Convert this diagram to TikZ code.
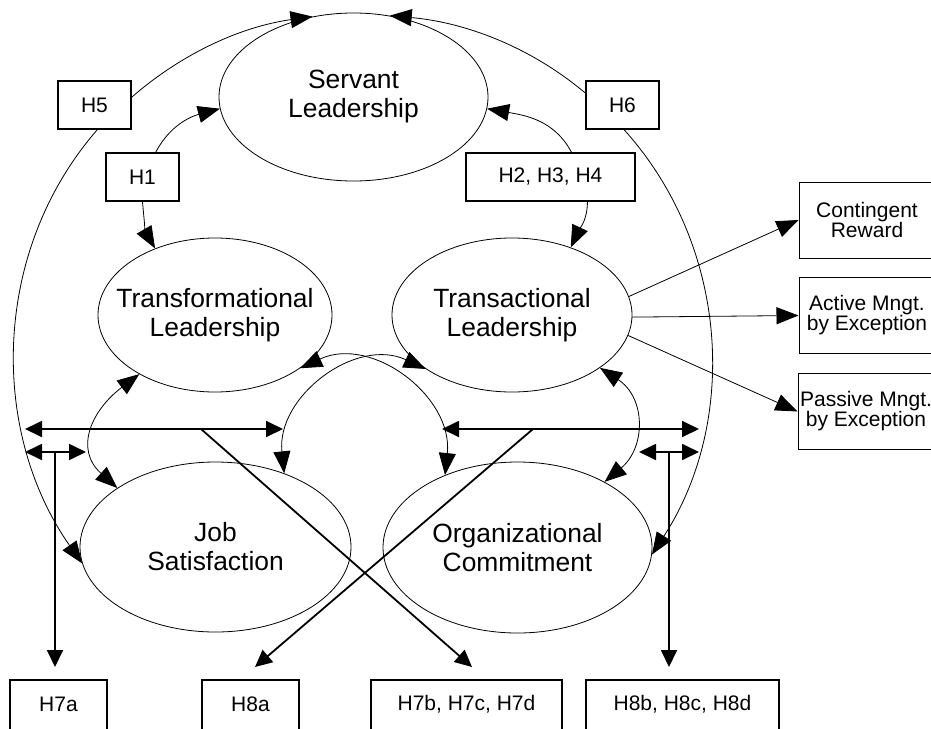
\documentclass[tikz,border=0pt]{standalone}
\usepackage{fontspec}
\setmainfont{Liberation Sans}
\usetikzlibrary{arrows.meta,shapes.geometric}
\begin{document}
\begin{tikzpicture}[x=1pt,y=-1pt,
  ell/.style={draw,ellipse,line width=0.8pt,inner sep=0pt},
  ellabel/.style={align=center,font=\fontsize{26.4}{29}\selectfont},
  hbox/.style={draw,line width=1.8pt,inner sep=0pt,minimum height=48pt,font=\fontsize{21}{20}\selectfont},
  boxlabel/.style={font=\fontsize{21}{20}\selectfont},
  rbox/.style={draw,line width=1pt,inner sep=0pt,minimum width=136pt,minimum height=76pt,align=center,font=\fontsize{21}{20}\selectfont},
  thinline/.style={line width=0.8pt},
  thickline/.style={line width=1.8pt},
  tip/.style={-{Triangle[length=22pt,width=17pt]}},
  tips/.style={{Triangle[length=22pt,width=17pt]}-{Triangle[length=22pt,width=17pt]}},
  ttip/.style={-{Triangle[length=17pt,width=16pt]}},
  ttips/.style={{Triangle[length=17pt,width=16pt]}-{Triangle[length=17pt,width=16pt]}},
]
\useasboundingbox (0,0) rectangle (931,728);
\clip (0,0) rectangle (931,728);

% ellipses
\node[ell,minimum width=269pt,minimum height=168pt,label={[ellabel]center:Servant\\Leadership}] (sv) at (353.5,97) {};
\node[ell,minimum width=234pt,minimum height=154pt,label={[ellabel]center:Transformational\\Leadership}] (tf) at (215,315) {};
\node[ell,minimum width=240pt,minimum height=154pt,label={[ellabel]center:Transactional\\Leadership}] (ta) at (512,315) {};
\node[ell,minimum width=271pt,minimum height=170pt,label={[ellabel]center:Job\\Satisfaction}] (js) at (215.5,547) {};
\node[ell,minimum width=269pt,minimum height=171pt,label={[ellabel]center:Organizational\\Commitment}] (org) at (517.5,547.5) {};

% hypothesis boxes
\node[hbox,minimum width=73pt] (h5) at (94.5,105) {H5};
\node[hbox,minimum width=73pt] (h1) at (142.5,177) {H1};
\node[hbox,minimum width=73pt] (h6) at (622.5,105) {H6};
\node[hbox,minimum width=169pt] (h2) at (550.5,177) {H2, H3, H4};

\node[hbox,minimum width=97pt,minimum height=60pt,label={[boxlabel,yshift=6pt]center:H7a}] (h7a) at (58.5,710) {};
\node[hbox,minimum width=97pt,minimum height=60pt,label={[boxlabel,yshift=6pt]center:H8a}] (h8a) at (250.5,710) {};
\node[hbox,minimum width=191pt,minimum height=60pt,label={[boxlabel,yshift=6pt]center:H7b, H7c, H7d}] (h7b) at (466.5,710) {};
\node[hbox,minimum width=193pt,minimum height=60pt,label={[boxlabel,yshift=6pt]center:H8b, H8c, H8d}] (h8b) at (682.5,710) {};

% transactional dimensions
\node[rbox] (cr) at (867,220) {Contingent\\Reward};
\node[rbox] (am) at (867,315.5) {Active Mngt.\\by Exception};
\node[rbox] (pm) at (866,411.5) {Passive Mngt.\\by Exception};

% curved hypothesis connectors
\draw[thinline,tip] (h5.12) to[out=41,in=188,looseness=0.9] (sv.117);
\draw[thinline,tip] (h5.-84) to[out=229,in=125,looseness=0.95] (js.187);
\draw[thinline,tip] (h6.162) to[out=140,in=-5,looseness=0.9] (sv.66);
\draw[thinline,tip] (h6.-86) to[out=-48,in=57,looseness=0.95] (org.-3);
\draw[thinline,tip] (h1.62) to[out=62,in=195] (sv.185.5);
\draw[thinline,tip] (h1.south) to[out=-85,in=120] (tf.132);
\draw[thinline,tip] (h2.50) to[out=118,in=-10] (sv.-5.5);
\draw[thinline,tip] (h2.-34) to[out=-90,in=65] (ta.49);

% correlations between ellipses
\draw[thinline,tips] (tf.218) to[out=217,in=138,looseness=1.3] (js.149);
\draw[thinline,tips] (ta.-31) to[out=-33,in=40,looseness=1.22] (org.37);
\draw[thinline,tips] (tf.-32) to[out=25,in=84,looseness=1.12] (org.135);
\draw[thinline,tips] (ta.212) to[out=155,in=96,looseness=1.12] (js.47.6);

% transactional to dimensions
\draw[thinline,tip] (ta.9) -- (cr.west);
\draw[thinline,tip] (ta.-1) -- (am.west);
\draw[thinline,tip] (ta.-10.6) -- (pm.west);

% thick connectors
\coordinate (a1) at (25,429);
\coordinate (a2) at (283,429);
\coordinate (b1) at (442,429);
\coordinate (b2) at (699,429);
\coordinate (c1) at (25,452);
\coordinate (c2) at (86,452);
\coordinate (d1) at (639,452);
\coordinate (d2) at (699,452);
\coordinate (v1) at (55,452);
\coordinate (v2) at (669,452);
\coordinate (s1) at (201,429);
\coordinate (s2) at (533,429);
\coordinate (t7a) at (55,667);
\coordinate (t8b) at (669,667);
\coordinate (t7b) at (472,667);
\coordinate (t8a) at (255,667);

\draw[thickline,ttips] (a1) -- (a2);
\draw[thickline,ttips] (b1) -- (b2);
\draw[thickline,ttips] (c1) -- (c2);
\draw[thickline,ttips] (d1) -- (d2);
\draw[thickline,ttip] (v1) -- (t7a);
\draw[thickline,ttip] (v2) -- (t8b);
\draw[thickline,ttip] (s1) -- (t7b);
\draw[thickline,ttip] (s2) -- (t8a);
\end{tikzpicture}
\end{document}
